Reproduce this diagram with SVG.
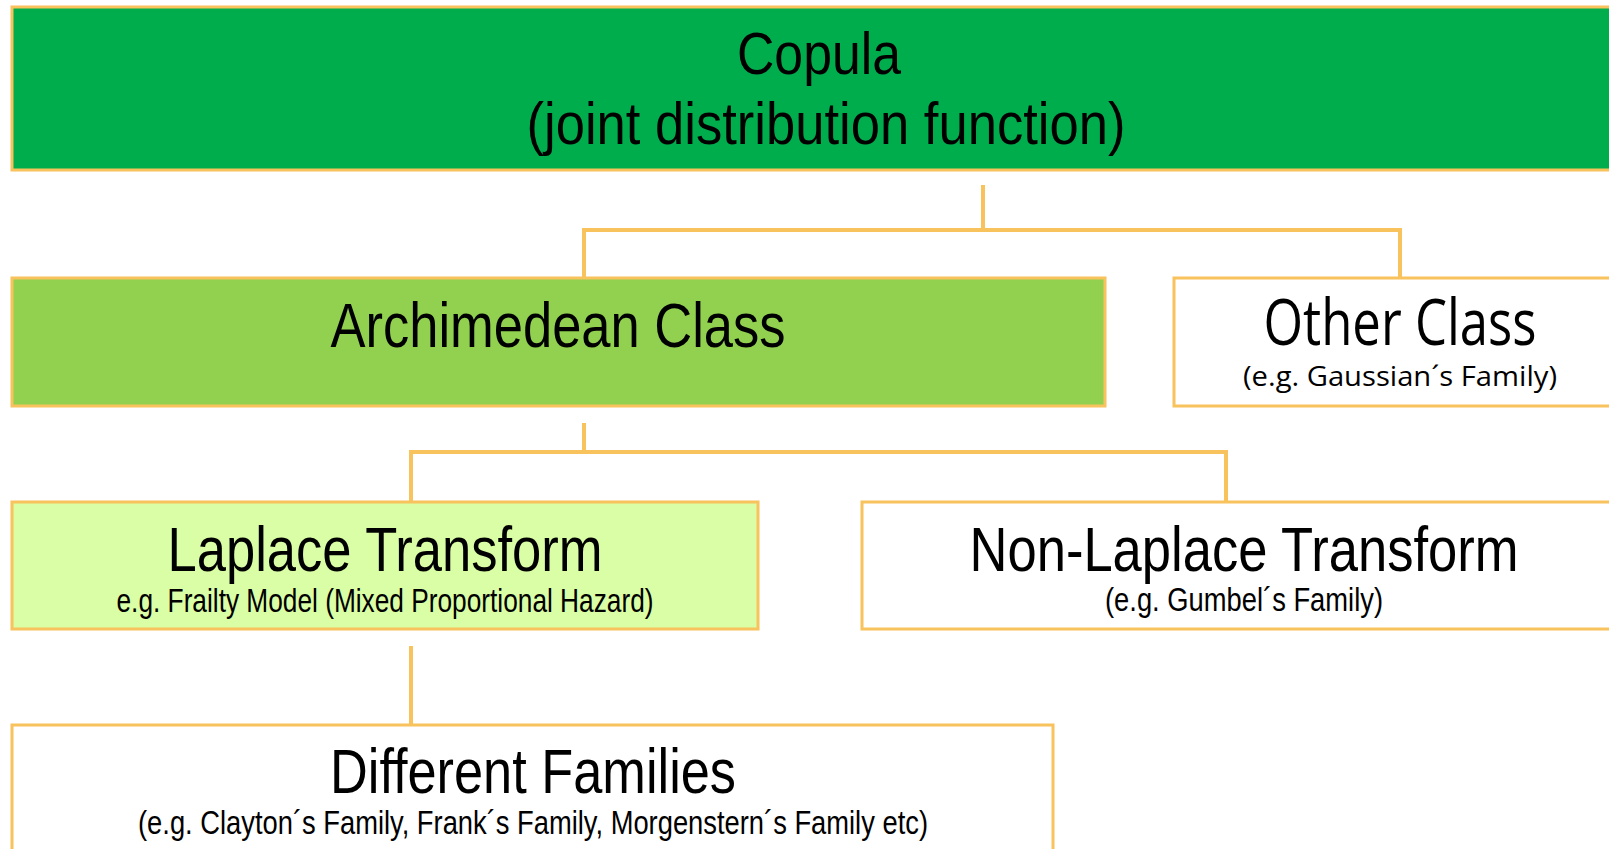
<svg xmlns="http://www.w3.org/2000/svg" width="1609" height="849" viewBox="0 0 1609 849">
<style>
.box{stroke:#F8C25C;stroke-width:3}
.conn{fill:none;stroke:#F8C25C;stroke-width:4}
.n{font-family:"Liberation Sans Narrow","Liberation Sans",Arial,sans-serif;fill:#000;text-anchor:middle}
.c{font-family:"Open Sans","Noto Sans",sans-serif;fill:#000;text-anchor:middle}
</style>
<rect width="1609" height="849" fill="#fff"/>
<g id="connectors">
<path class="conn" d="M983 185 V230 M584 278 V230 H1400 V278"/>
<path class="conn" d="M584 423 V452 M411 502 V452 H1226 V502"/>
<path class="conn" d="M411 646 V725"/>
</g>
<g id="copula">
<rect class="box" x="12" y="7" width="1620" height="163" fill="#00AD4D"/>
<text class="n" x="819" y="74" font-size="60" textLength="164" lengthAdjust="spacingAndGlyphs">Copula</text>
<text class="n" x="826" y="144" font-size="60" textLength="599" lengthAdjust="spacingAndGlyphs">(joint distribution function)</text>
</g>
<g id="archimedean">
<rect class="box" x="12" y="278" width="1093" height="128" fill="#92D050"/>
<text class="n" x="558" y="347" font-size="63" textLength="455" lengthAdjust="spacingAndGlyphs">Archimedean Class</text>
</g>
<g id="other">
<rect class="box" x="1174" y="278" width="460" height="128" fill="#fff"/>
<text class="c" x="1400" y="345" font-size="64" textLength="273" lengthAdjust="spacingAndGlyphs">Other Class</text>
<text class="c" x="1400" y="386" font-size="27" textLength="314" lengthAdjust="spacingAndGlyphs">(e.g. Gaussian´s Family)</text>
</g>
<g id="laplace">
<rect class="box" x="12" y="502" width="746" height="127" fill="#D9FEA5"/>
<text class="n" x="385" y="571" font-size="63" textLength="435" lengthAdjust="spacingAndGlyphs">Laplace Transform</text>
<text class="n" x="385" y="612" font-size="33" textLength="537" lengthAdjust="spacingAndGlyphs">e.g. Frailty Model (Mixed Proportional Hazard)</text>
</g>
<g id="nonlaplace">
<rect class="box" x="862" y="502" width="770" height="127" fill="#fff"/>
<text class="n" x="1244" y="571" font-size="63" textLength="549" lengthAdjust="spacingAndGlyphs">Non-Laplace Transform</text>
<text class="n" x="1244" y="611" font-size="33" textLength="278" lengthAdjust="spacingAndGlyphs">(e.g. Gumbel´s Family)</text>
</g>
<g id="families">
<rect class="box" x="12" y="725" width="1041" height="140" fill="#fff"/>
<text class="n" x="533" y="793" font-size="63" textLength="406" lengthAdjust="spacingAndGlyphs">Different Families</text>
<text class="n" x="533" y="834" font-size="33" textLength="790" lengthAdjust="spacingAndGlyphs">(e.g. Clayton´s Family, Frank´s Family, Morgenstern´s Family etc)</text>
</g>
</svg>
